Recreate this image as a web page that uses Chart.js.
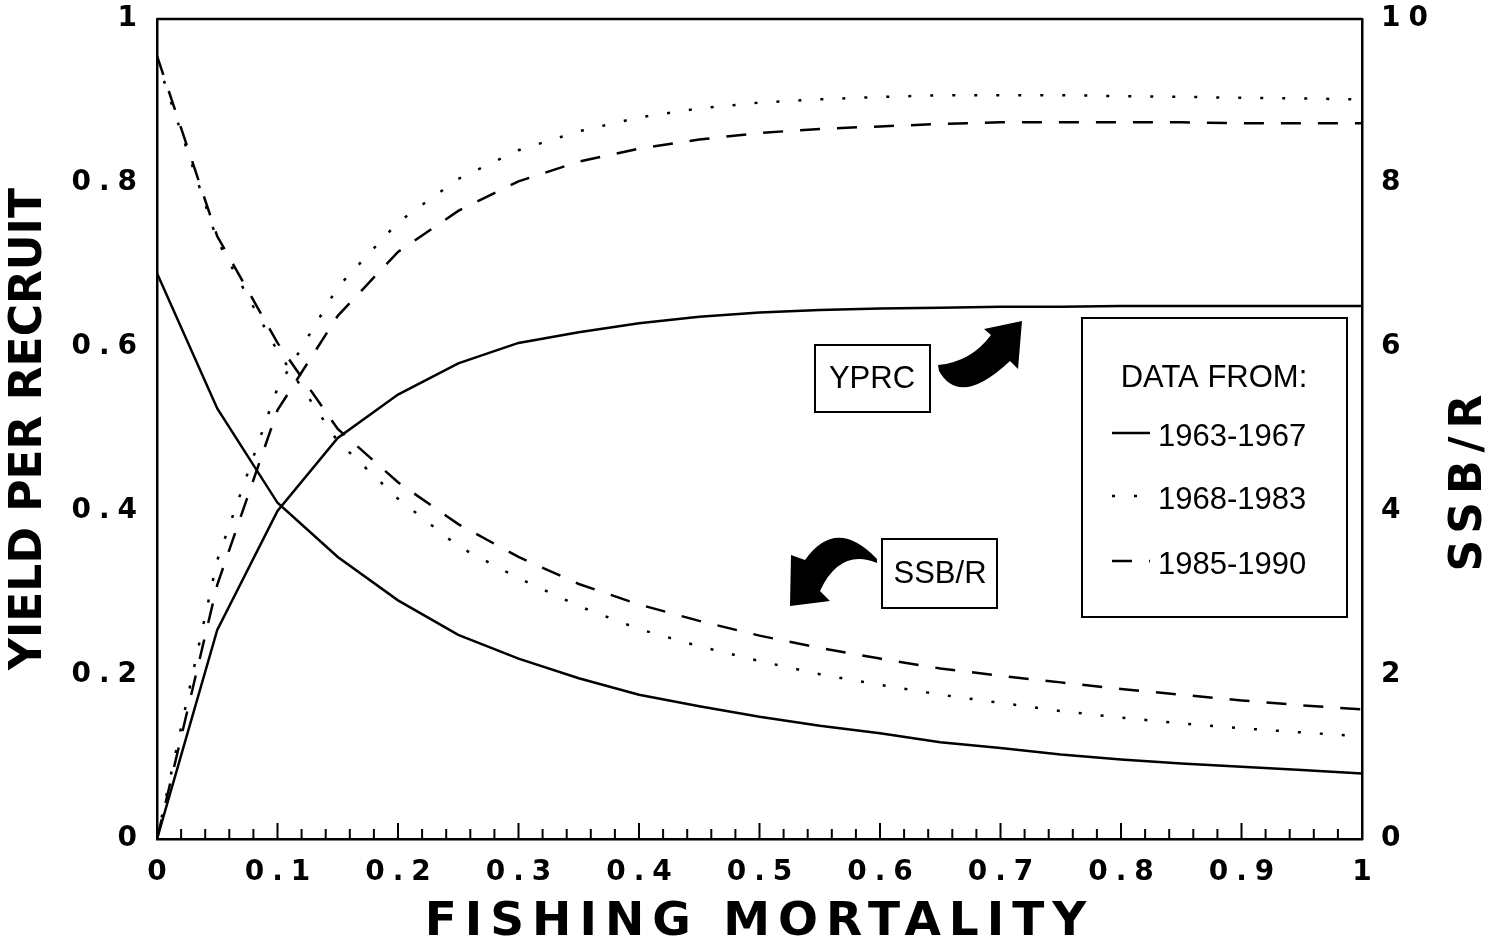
<!DOCTYPE html>
<html>
<head>
<meta charset="utf-8">
<title>Yield per recruit and SSB/R against fishing mortality</title>
<script src="https://cdn.jsdelivr.net/npm/chart.js@4.4.1/dist/chart.umd.min.js"></script>
<style>
    body { margin: 0; background: #ffffff; }
</style>
</head>
<body>
<canvas id="chart-ypr" width="1503" height="942"></canvas>
<script>
"use strict";

// Fishing mortality (x values)
const fishingMortality = [0, 0.05, 0.1, 0.15, 0.2, 0.25, 0.3, 0.35, 0.4, 0.45, 0.5,
    0.55, 0.6, 0.65, 0.7, 0.75, 0.8, 0.85, 0.9, 0.95, 1];

// Data periods, in legend order
const periods = ["1963-1967", "1968-1983", "1985-1990"];

// Yield per recruit (left axis)
const yield6367 = [0, 0.255, 0.40, 0.489, 0.542, 0.58, 0.605, 0.618, 0.629, 0.637, 0.642,
    0.645, 0.647, 0.648, 0.649, 0.649, 0.65, 0.65, 0.65, 0.65, 0.65];
const yield6883 = [0, 0.34, 0.55, 0.673, 0.752, 0.805, 0.84, 0.863, 0.88, 0.891, 0.898,
    0.902, 0.905, 0.907, 0.907, 0.907, 0.906, 0.905, 0.904, 0.903, 0.902];
const yield8590 = [0, 0.31, 0.523, 0.638, 0.716, 0.766, 0.802, 0.826, 0.842, 0.853, 0.861,
    0.866, 0.869, 0.872, 0.874, 0.874, 0.874, 0.874, 0.873, 0.873, 0.873];

// Spawning stock biomass per recruit (right axis)
const ssb6367 = [6.9, 5.25, 4.1, 3.44, 2.91, 2.49, 2.2, 1.96, 1.76, 1.62, 1.49,
    1.38, 1.29, 1.18, 1.11, 1.03, 0.97, 0.92, 0.88, 0.84, 0.80];
const ssb6883 = [9.5, 7.3, 5.95, 4.85, 4.15, 3.57, 3.18, 2.84, 2.56, 2.35, 2.17,
    2.01, 1.88, 1.76, 1.66, 1.56, 1.48, 1.41, 1.35, 1.30, 1.25];
const ssb8590 = [9.55, 7.35, 6.05, 5.0, 4.35, 3.84, 3.44, 3.11, 2.86, 2.66, 2.48,
    2.33, 2.20, 2.08, 1.99, 1.91, 1.83, 1.76, 1.69, 1.63, 1.58];

// Axis tick settings
const leftTickStep = 0.2;
const rightTickStep = 2;
const xTickStep = 0.1;

// Line styles, one per period
const periodDash = [[], [3, 19], [20, 17]];

function toPoints(values) {
    return values.map(function (v, i) {
        return { x: fishingMortality[i], y: v };
    });
}

function lineSet(label, values, axis, idx) {
    return {
        label: label,
        data: toPoints(values),
        yAxisID: axis,
        borderColor: "#000",
        borderWidth: 2.5,
        borderDash: periodDash[idx],
        pointRadius: 0,
        tension: 0,
        fill: false
    };
}

// plain numbers: 0, 0.2, ... 1
function plainLabel(value) {
    return String(Number(value.toFixed(2)));
}

// fixed width for a y axis, without extra room for the end labels
function fixWidth(w) {
    return function (s) {
        s.width = w;
        s.paddingTop = 0;
        s.paddingBottom = 0;
    };
}

// Letter spacing: none for the left title (drawn under the lines),
// wide for tick labels and the bottom title (drawn above them)
const spacingPlugin = {
    id: "spacing",
    beforeDraw(chart) {
        chart.ctx.letterSpacing = "0px";
    },
    afterDatasetsDraw(chart) {
        chart.ctx.letterSpacing = "8px";
    }
};

const decorPlugin = {
    id: "decor",
    afterDraw(chart) {
        let ctx = chart.ctx;
        let area = chart.chartArea;
        let xs = chart.scales.x;
        ctx.save();
        ctx.letterSpacing = "0px";
        ctx.strokeStyle = "#000";
        ctx.fillStyle = "#000";

        // top frame line
        ctx.lineWidth = 2.5;
        ctx.beginPath();
        ctx.moveTo(area.left, area.top);
        ctx.lineTo(area.right, area.top);
        ctx.stroke();

        // inward tick marks on the x axis: minor every 0.02, major every 0.1
        ctx.lineWidth = 2;
        for (let i = 0; i <= 50; i++) {
            let px = xs.getPixelForValue(i / 50);
            let len = (i % 5 === 0) ? 16 : 10;
            ctx.beginPath();
            ctx.moveTo(px, area.bottom);
            ctx.lineTo(px, area.bottom - len);
            ctx.stroke();
        }

        // right axis title, reading bottom to top
        ctx.save();
        ctx.letterSpacing = "8px";
        ctx.font = "bold 44px 'DejaVu Sans'";
        ctx.textAlign = "center";
        ctx.textBaseline = "middle";
        ctx.translate(1470, 483);
        ctx.rotate(-Math.PI / 2);
        ctx.fillText("SSB/R", 4, 0);
        ctx.restore();

        // legend box
        ctx.lineWidth = 2;
        ctx.strokeRect(1082, 318, 265, 299);
        ctx.font = "31px 'Liberation Sans'";
        ctx.textBaseline = "middle";
        ctx.textAlign = "center";
        ctx.fillText("DATA FROM:", 1214, 378);
        ctx.textAlign = "left";
        let rowY = [437, 500, 565];
        for (let i = 0; i < periods.length; i++) {
            ctx.save();
            ctx.lineWidth = 2.5;
            ctx.setLineDash(periodDash[i]);
            ctx.beginPath();
            ctx.moveTo(1112, rowY[i] - 4);
            ctx.lineTo(1150, rowY[i] - 4);
            ctx.stroke();
            ctx.restore();
            ctx.fillText(periods[i], 1158, rowY[i]);
        }

        // annotation boxes
        ctx.lineWidth = 2;
        ctx.strokeRect(815, 345, 115, 67);
        ctx.strokeRect(882, 539, 115, 69);
        ctx.textAlign = "center";
        ctx.fillText("YPRC", 872, 379);
        ctx.fillText("SSB/R", 940, 574);

        // curved arrow from YPRC to the yield curves
        ctx.beginPath();
        ctx.moveTo(938, 365);
        ctx.quadraticCurveTo(971, 362, 991, 335);
        ctx.lineTo(984, 329);
        ctx.lineTo(1022, 321);
        ctx.lineTo(1018, 369);
        ctx.lineTo(1010, 361);
        ctx.quadraticCurveTo(960, 408, 939, 371);
        ctx.closePath();
        ctx.fill();

        // curved arrow from SSB/R to the biomass curves
        ctx.beginPath();
        ctx.moveTo(877, 559);
        ctx.quadraticCurveTo(836, 516, 805, 560);
        ctx.lineTo(791, 555);
        ctx.lineTo(790, 606);
        ctx.lineTo(830, 601);
        ctx.lineTo(820, 591);
        ctx.quadraticCurveTo(840, 548, 877, 563);
        ctx.closePath();
        ctx.fill();

        ctx.restore();
    }
};

let canvas = document.getElementById("chart-ypr");

let myChart = new Chart(canvas, {
    "type": "line",
    "data": {
        "datasets": [
            lineSet("YPR " + periods[0], yield6367, "y", 0),
            lineSet("YPR " + periods[1], yield6883, "y", 1),
            lineSet("YPR " + periods[2], yield8590, "y", 2),
            lineSet("SSB/R " + periods[0], ssb6367, "y2", 0),
            lineSet("SSB/R " + periods[1], ssb6883, "y2", 1),
            lineSet("SSB/R " + periods[2], ssb8590, "y2", 2)
        ]
    },
    "options": {
        responsive: false,
        animation: false,
        layout: { padding: { top: 19, left: 0, right: 0, bottom: 0 } },
        plugins: {
            legend: { display: false },
            tooltip: { enabled: false }
        },
        scales: {
            x: {
                type: "linear",
                position: "bottom",
                min: 0,
                max: 1,
                afterFit: function (s) { s.height = 103; },
                grid: { display: false, drawTicks: false, z: 1 },
                border: { display: true, color: "#000", width: 2.5, z: 1 },
                ticks: {
                    z: 1,
                    stepSize: xTickStep,
                    autoSkip: false,
                    maxRotation: 0,
                    padding: 17,
                    labelOffset: 4,
                    color: "#000",
                    font: { family: "DejaVu Sans", size: 28, weight: "bold" },
                    callback: plainLabel
                },
                title: {
                    display: true,
                    text: "FISHING MORTALITY",
                    color: "#000",
                    padding: { top: 0, bottom: 0 },
                    font: { family: "DejaVu Sans", size: 47, weight: "bold", lineHeight: 0.8 }
                }
            },
            y: {
                type: "linear",
                position: "left",
                min: 0,
                max: 1,
                afterFit: fixWidth(157),
                grid: { display: false, drawTicks: false },
                border: { display: true, color: "#000", width: 2.5 },
                ticks: {
                    z: 1,
                    stepSize: leftTickStep,
                    padding: 12,
                    color: "#000",
                    font: { family: "DejaVu Sans", size: 28, weight: "bold" },
                    callback: plainLabel
                },
                title: {
                    display: true,
                    text: "YIELD PER RECRUIT",
                    color: "#000",
                    padding: { top: 8, bottom: 0 },
                    font: { family: "DejaVu Sans", size: 44, weight: "bold", lineHeight: 1 }
                }
            },
            y2: {
                type: "linear",
                position: "right",
                min: 0,
                max: 10,
                afterFit: fixWidth(141),
                grid: { display: false, drawTicks: false },
                border: { display: true, color: "#000", width: 2.5 },
                ticks: {
                    z: 1,
                    stepSize: rightTickStep,
                    padding: 19,
                    color: "#000",
                    font: { family: "DejaVu Sans", size: 28, weight: "bold" },
                    callback: plainLabel
                }
            }
        }
    },
    plugins: [spacingPlugin, decorPlugin]
});
</script>
</body>
</html>
